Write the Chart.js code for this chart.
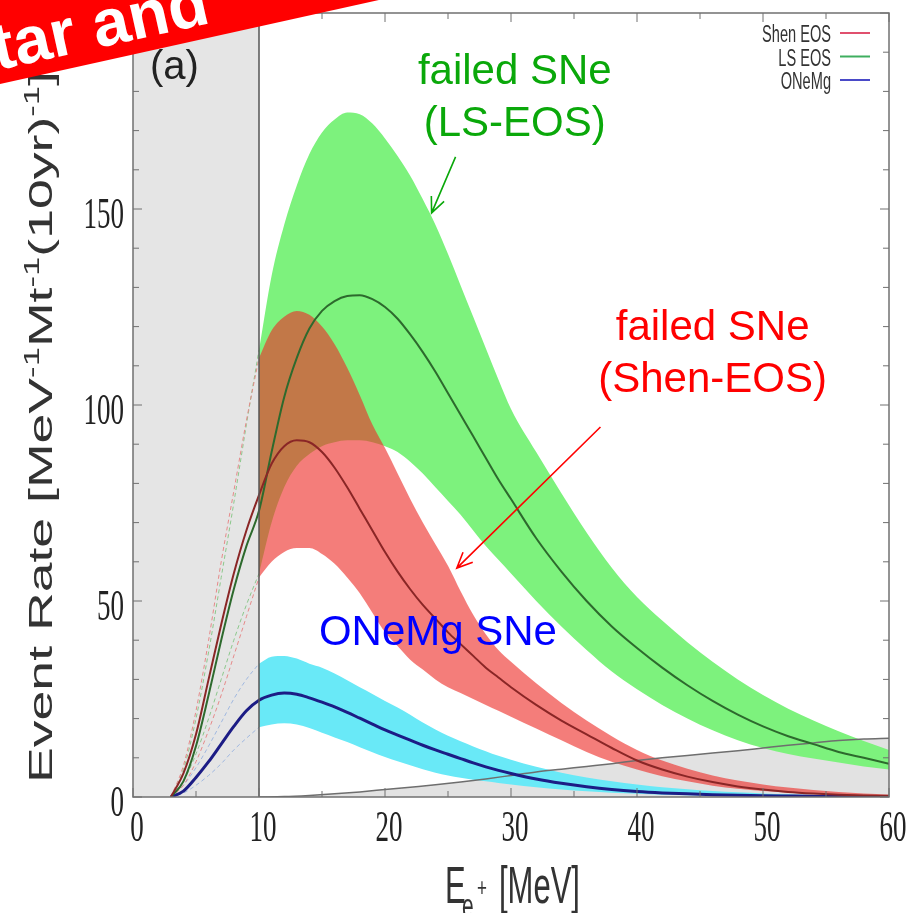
<!DOCTYPE html>
<html>
<head>
<meta charset="utf-8">
<script src="https://cdn.jsdelivr.net/npm/chart.js@4.4.1/dist/chart.umd.min.js"></script>
<style>
    html, body { margin: 0; padding: 0; background: #fff; }
</style>
</head>
<body>
<canvas id="graficoEventos" width="920" height="913"></canvas>
<script>
// Energía del positrón [MeV] para las bandas (a partir del umbral)
const energia = [10, 11, 12, 13, 14, 15, 16, 17, 18, 19, 20, 21, 22, 23, 24, 25, 26, 27, 28, 29,
                 30, 32, 34, 36, 38, 40, 42, 44, 46, 48, 50, 52, 54, 56, 58, 60];
// Tramo por debajo del umbral (solo líneas)
const energiaBaja = [3, 4, 5, 6, 7, 8, 9];
const umbral = 10;

// failed SNe, LS EOS
const lsSup    = [114, 133, 146, 156, 164, 169.5, 172.8, 174.6, 174.2, 171.8, 168, 163.5, 158.5, 152.5, 146, 138.5, 130.5, 122.5, 114.5, 106.5,
                  99, 88, 77.5, 67.5, 58.5, 51, 45, 39.5, 34.5, 30, 26, 22.5, 19.5, 16.8, 14.3, 12];
const lsCentro = [73, 88, 102, 112, 119.5, 124, 126.5, 127.8, 128, 127, 125, 122, 118, 113.5, 108.5, 103, 97.5, 92, 86.5, 81,
                  76, 66, 57.5, 50, 43.5, 38, 33, 28.5, 24.5, 21, 18, 15.5, 13.5, 11.5, 10, 8.5];
const lsInf    = [57, 70, 79, 84.5, 87.5, 89.5, 90.5, 91, 91, 90.5, 89.5, 88, 85.5, 82.5, 79, 75.5, 72, 68, 64, 60.5,
                  57, 50, 43.5, 37.5, 32, 27.5, 23.5, 20, 17, 14.5, 12.5, 11, 9.8, 8.8, 7.8, 7];

// failed SNe, Shen EOS
const shenSup    = [112, 119, 122.5, 124, 123, 120, 115.5, 109.5, 102.5, 95, 89, 82.5, 76, 70, 64.5, 59, 52.5, 46.5, 41.5, 37.5,
                    34.5, 29, 24, 19.5, 15.5, 12, 9.3, 7.2, 5.5, 4.2, 3.2, 2.4, 1.8, 1.3, 0.9, 0.6];
const shenCentro = [77, 85, 89.5, 91, 90.5, 88, 84, 79, 73.5, 68, 62.5, 57.5, 53, 49, 45.5, 42, 39, 36, 33, 30.5,
                    28, 23.5, 19.5, 16, 12.5, 9.3, 7, 5.2, 3.8, 2.7, 1.9, 1.3, 0.9, 0.6, 0.4, 0.3];
const shenInf    = [56, 60, 62.5, 63.5, 63.5, 62, 59.5, 56, 52, 47, 42, 38.5, 35, 32.5, 30, 28, 26.5, 25, 23.5, 22,
                    20.5, 17.5, 14.5, 11.5, 9, 7, 5.3, 4, 2.9, 2.1, 1.5, 1.1, 0.8, 0.55, 0.4, 0.25];

// ONeMg SNe
const oneSup    = [34, 35.8, 36, 35.3, 34, 33, 31.5, 29.8, 28, 26.3, 24.5, 22.8, 21, 19, 17.2, 15.6, 14.2, 12.9, 11.7, 10.5,
                   9.5, 7.7, 6.2, 5, 4, 3.2, 2.5, 2, 1.5, 1.2, 0.9, 0.7, 0.5, 0.4, 0.3, 0.2];
const oneCentro = [24.7, 26, 26.5, 26.2, 25.3, 24.2, 23, 21.6, 20.1, 18.6, 17.1, 15.8, 14.5, 13.2, 12, 10.9, 9.8, 8.7, 7.7, 6.8,
                   6, 4.6, 3.5, 2.6, 1.9, 1.4, 1.05, 0.8, 0.6, 0.45, 0.33, 0.25, 0.18, 0.13, 0.1, 0.07];
const oneInf    = [17.8, 18.5, 18.8, 18.5, 17.6, 16.4, 15.2, 14, 12.7, 11.4, 10.2, 9.1, 8.1, 7.1, 6.2, 5.5, 4.9, 4.4, 4, 3.6,
                   3.2, 2.5, 1.9, 1.45, 1.1, 0.8, 0.6, 0.45, 0.35, 0.25, 0.2, 0.15, 0.1, 0.08, 0.06, 0.04];

// Valores por debajo del umbral (3-9 MeV)
const shenCentroBajo = [0, 6, 16, 30, 44, 57, 68];
const lsCentroBajo   = [0, 4, 13, 26, 40, 53, 64];
const oneCentroBajo  = [0, 1.5, 5, 9, 13.5, 18, 22];
const shenSupBajo = [0, 8, 22, 40, 60, 78, 96];
const shenInfBajo = [0, 3, 9, 17, 26, 36, 46];
const lsSupBajo   = [0, 7, 20, 37, 56, 75, 95];
const lsInfBajo   = [0, 4, 11, 20, 30, 40, 49];
const oneSupBajo  = [0, 3, 7.5, 13, 19, 25, 30];
const oneInfBajo  = [0, 1, 3, 5.5, 8.5, 12, 15];

// Fondo (zona gris inferior)
const energiaFondo = [10, 12, 14, 16, 18, 20, 22, 24, 26, 28, 30, 32, 34, 36, 38, 40, 42, 44, 46, 48, 50, 52, 54, 56, 58, 60];
const fondo = [0, 0.1, 0.4, 0.8, 1.3, 1.9, 2.5, 3.1, 3.8, 4.6, 5.5, 6.4, 7.1, 7.8, 8.5, 9.3, 10, 10.6, 11.2, 11.8,
               12.5, 13.2, 13.8, 14.4, 14.8, 15];

// Ejes
const ticksX = [0, 10, 20, 30, 40, 50, 60];
const ticksY = [0, 50, 100, 150, 200];

// Anotaciones (en unidades de los ejes)
const notas = [
    { lineas: ['failed SNe', '(LS-EOS)'], x: 30.3, y: 182, color: '#0aa80a' },
    { lineas: ['failed SNe', '(Shen-EOS)'], x: 46, y: 116.6, color: '#ff0000' },
    { lineas: ['ONeMg SNe'], x: 24.2, y: 38.8, color: '#0000ff' }
];
const flechas = [
    { desde: [25.6, 163.3], hasta: [23.7, 149], color: '#0aa80a' },
    { desde: [37.1, 94.4], hasta: [25.7, 58.4], color: '#ff0000' }
];

function serie(xs, ys) {
    return xs.map((x, i) => ({ x: x, y: ys[i] }));
}

const todo = energiaBaja.concat(energia);
const bajoConUmbral = energiaBaja.concat([umbral]);

const base = { pointRadius: 0, borderWidth: 0, cubicInterpolationMode: 'monotone', fill: false };

function borde(valores, ultimo, color) {
    return Object.assign({}, base, {
        label: '', data: serie(bajoConUmbral, valores.concat([ultimo])),
        borderColor: color, borderWidth: 1, borderDash: [4, 3], order: 3
    });
}

const datasets = [
    Object.assign({}, base, { label: 'Shen EOS', data: serie(todo, shenCentroBajo.concat(shenCentro)),
        borderColor: '#8a2626', borderWidth: 2, order: 1, colorLeyenda: '#e0506e' }),
    Object.assign({}, base, { label: 'LS EOS', data: serie(todo, lsCentroBajo.concat(lsCentro)),
        borderColor: '#2d6a2d', borderWidth: 2, order: 1, colorLeyenda: '#3fae5f' }),
    Object.assign({}, base, { label: 'ONeMg', data: serie(todo, oneCentroBajo.concat(oneCentro)),
        borderColor: '#1c1c85', borderWidth: 3, order: 1, colorLeyenda: '#4a4ac8' }),
    Object.assign({}, base, { label: '', data: serie(energiaFondo, fondo),
        borderColor: '#6e6e6e', borderWidth: 1.5, order: 2 }),
    borde(shenSupBajo, shenSup[0], '#e58a8a'),
    borde(shenInfBajo, shenInf[0], '#e58a8a'),
    borde(lsSupBajo, lsSup[0], '#8cc88c'),
    borde(lsInfBajo, lsInf[0], '#8cc88c'),
    borde(oneSupBajo, oneSup[0], '#a0b8e0'),
    borde(oneInfBajo, oneInf[0], '#a0b8e0'),
    // bandas: el superior rellena hasta el siguiente
    Object.assign({}, base, { label: '', data: serie(energia, oneSup), fill: '+1',
        backgroundColor: 'rgb(105,233,247)', order: 4 }),
    Object.assign({}, base, { label: '', data: serie(energia, oneInf), order: 4 }),
    Object.assign({}, base, { label: '', data: serie(energia, shenSup), fill: '+1',
        backgroundColor: 'rgba(238,45,40,0.62)', order: 5 }),
    Object.assign({}, base, { label: '', data: serie(energia, shenInf), order: 5 }),
    Object.assign({}, base, { label: '', data: serie(energia, lsSup), fill: '+1',
        backgroundColor: 'rgb(125,242,125)', order: 6 }),
    Object.assign({}, base, { label: '', data: serie(energia, lsInf), order: 6 }),
    Object.assign({}, base, { label: '', data: serie(energiaFondo, fondo), fill: 'origin',
        backgroundColor: 'rgb(226,226,226)', order: 7 })
];

// Texto estirado en vertical
function textoAlto(ctx, texto, x, y, k) {
    ctx.save();
    ctx.translate(x, y);
    ctx.scale(1, k);
    ctx.fillText(texto, 0, 0);
    ctx.restore();
}

function flecha(ctx, x1, y1, x2, y2, color) {
    const ang = Math.atan2(y2 - y1, x2 - x1);
    const largo = 17, abre = 0.42;
    ctx.save();
    ctx.strokeStyle = color;
    ctx.lineWidth = 1.6;
    ctx.beginPath();
    ctx.moveTo(x1, y1);
    ctx.lineTo(x2, y2);
    ctx.moveTo(x2 - largo * Math.cos(ang - abre), y2 - largo * Math.sin(ang - abre));
    ctx.lineTo(x2, y2);
    ctx.lineTo(x2 - largo * Math.cos(ang + abre), y2 - largo * Math.sin(ang + abre));
    ctx.stroke();
    ctx.restore();
}

const decoracion = {
    id: 'decoracion',
    beforeDatasetsDraw(chart) {
        const { ctx, chartArea: a, scales: { x } } = chart;
        // zona por debajo del umbral
        ctx.save();
        ctx.fillStyle = 'rgb(229,229,229)';
        ctx.fillRect(a.left, a.top, x.getPixelForValue(umbral) - a.left, a.bottom - a.top);
        ctx.restore();
    },
    afterDatasetsDraw(chart) {
        const { ctx, chartArea: a, scales: { x, y } } = chart;
        ctx.save();

        // línea del umbral
        const xu = x.getPixelForValue(umbral);
        ctx.strokeStyle = '#555';
        ctx.lineWidth = 1.5;
        ctx.beginPath();
        ctx.moveTo(xu, a.top);
        ctx.lineTo(xu, a.bottom);
        ctx.stroke();

        // marco y marcas hacia dentro
        ctx.strokeStyle = '#707070';
        ctx.lineWidth = 1.5;
        ctx.strokeRect(a.left, a.top, a.right - a.left, a.bottom - a.top);
        ctx.lineWidth = 1;
        ctx.beginPath();
        for (let v = 0; v <= 60; v += 5) {
            const px = x.getPixelForValue(v);
            const l = v % 10 === 0 ? 9 : 6;
            ctx.moveTo(px, a.bottom); ctx.lineTo(px, a.bottom - l);
            ctx.moveTo(px, a.top); ctx.lineTo(px, a.top + l);
        }
        for (let v = 0; v <= 200; v += 10) {
            const py = y.getPixelForValue(v);
            const l = v % 50 === 0 ? 9 : 6;
            ctx.moveTo(a.left, py); ctx.lineTo(a.left + l, py);
            ctx.moveTo(a.right, py); ctx.lineTo(a.right - l, py);
        }
        ctx.stroke();

        // números de los ejes
        ctx.fillStyle = '#222';
        ctx.font = '27px "Liberation Serif"';
        ctx.textBaseline = 'alphabetic';
        ctx.textAlign = 'center';
        ticksX.forEach(v => textoAlto(ctx, String(v), x.getPixelForValue(v) + 4, a.bottom + 44, 1.65));
        ctx.textAlign = 'right';
        ticksY.forEach(v => textoAlto(ctx, String(v), a.left - 9, y.getPixelForValue(v) + 19, 1.65));

        // título eje X
        ctx.fillStyle = '#333';
        ctx.textAlign = 'left';
        ctx.font = '31px "Liberation Sans"';
        textoAlto(ctx, 'E', 445, 903, 1.65);
        ctx.font = '21px "Liberation Sans"';
        textoAlto(ctx, 'e', 462, 918, 1.65);
        ctx.font = '17px "Liberation Sans"';
        textoAlto(ctx, '+', 477, 896, 1.5);
        ctx.font = '31px "Liberation Sans"';
        textoAlto(ctx, '[MeV]', 499, 903, 1.65);

        // título eje Y (rotado, con superíndices)
        const partes = [['Event Rate [MeV', false], ['-1', true], ['Mt', false], ['-1', true],
                        ['(10yr)', false], ['-1', true], [']', false]];
        const fNormal = '34px "Liberation Sans"', fSup = '22px "Liberation Sans"';
        let total = 0;
        partes.forEach(p => { ctx.font = p[1] ? fSup : fNormal; total += ctx.measureText(p[0]).width; });
        ctx.save();
        ctx.translate(52, 783);
        ctx.rotate(-Math.PI / 2);
        ctx.scale(712 / total, 1);
        let pos = 0;
        partes.forEach(p => {
            ctx.font = p[1] ? fSup : fNormal;
            ctx.fillText(p[0], pos, p[1] ? -13 : 0);
            pos += ctx.measureText(p[0]).width;
        });
        ctx.restore();

        // leyenda
        const series = chart.data.datasets.filter(d => d.colorLeyenda);
        ctx.font = '14.6px "Liberation Sans"';
        ctx.textAlign = 'right';
        series.forEach((d, i) => {
            const base = a.top + 29 + i * 23.5;
            ctx.fillStyle = '#333';
            textoAlto(ctx, d.label, a.right - 58, base, 1.6);
            ctx.strokeStyle = d.colorLeyenda;
            ctx.lineWidth = 2;
            ctx.beginPath();
            ctx.moveTo(a.right - 49, base - 9);
            ctx.lineTo(a.right - 19, base - 9);
            ctx.stroke();
        });

        // anotaciones
        ctx.font = '42px "Liberation Sans"';
        ctx.textAlign = 'center';
        notas.forEach(n => {
            ctx.fillStyle = n.color;
            n.lineas.forEach((t, i) => {
                ctx.fillText(t, x.getPixelForValue(n.x), y.getPixelForValue(n.y) + i * 52);
            });
        });
        flechas.forEach(f => flecha(ctx,
            x.getPixelForValue(f.desde[0]), y.getPixelForValue(f.desde[1]),
            x.getPixelForValue(f.hasta[0]), y.getPixelForValue(f.hasta[1]), f.color));

        // etiqueta del panel
        ctx.fillStyle = '#222';
        ctx.textAlign = 'left';
        ctx.font = '40px "Liberation Sans"';
        ctx.fillText('(a)', 150, 79);

        // cinta roja de la esquina
        ctx.save();
        ctx.translate(0, 84);
        ctx.rotate(-12.5 * Math.PI / 180);
        ctx.fillStyle = '#ff0000';
        ctx.fillRect(-80, -140, 560, 140);
        ctx.fillStyle = '#fff';
        ctx.font = 'bold 66px "Liberation Sans"';
        ctx.fillText('tar and', 0, -14);
        ctx.restore();

        ctx.restore();
    }
};

new Chart(document.getElementById('graficoEventos').getContext('2d'), {
    type: 'line',
    data: { datasets: datasets },
    options: {
        responsive: false,
        animation: false,
        devicePixelRatio: 1,
        layout: { padding: { top: 13, right: 31, left: 0, bottom: 0 } },
        scales: {
            x: {
                type: 'linear', min: 0, max: 60,
                ticks: { stepSize: 10, display: false },
                grid: { display: false }, border: { display: false },
                afterFit: s => { s.height = 116; }
            },
            y: {
                type: 'linear', min: 0, max: 200,
                ticks: { stepSize: 50, display: false },
                grid: { display: false }, border: { display: false },
                afterFit: s => { s.width = 133; }
            }
        },
        plugins: {
            legend: { display: false },
            tooltip: { enabled: false }
        }
    },
    plugins: [decoracion]
});
</script>
</body>
</html>
